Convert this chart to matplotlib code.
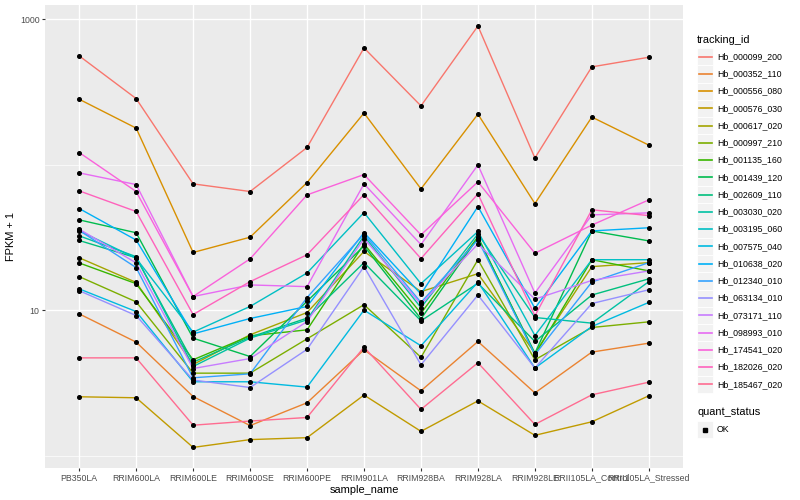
import matplotlib.pyplot as plt
from matplotlib.lines import Line2D
from matplotlib.patches import Rectangle
from matplotlib.ticker import FixedLocator, NullFormatter

samples = ["PB350LA", "RRIM600LA", "RRIM600LE", "RRIM600SE", "RRIM600PE",
           "RRIM901LA", "RRIM928BA", "RRIM928LA", "RRIM928LE",
           "RRII105LA_Control", "RRII105LA_Stressed"]

tracking_ids = ["Hb_000099_200", "Hb_000352_110", "Hb_000556_080", "Hb_000576_030",
                "Hb_000617_020", "Hb_000997_210", "Hb_001135_160", "Hb_001439_120",
                "Hb_002609_110", "Hb_003030_020", "Hb_003195_060", "Hb_007575_040",
                "Hb_010638_020", "Hb_012340_010", "Hb_063134_010", "Hb_073171_110",
                "Hb_098993_010", "Hb_174541_020", "Hb_182026_020", "Hb_185467_020"]

# FPKM + 1, one list per gene, in sample order
hb_000099_200 = [558, 284, 73.7, 65.3, 131, 633, 253, 895, 111, 469, 546]
hb_000352_110 = [9.43, 6.03, 2.55, 1.61, 2.31, 5.34, 2.79, 6.09, 2.70, 5.15, 5.93]
hb_000556_080 = [281, 178, 24.9, 31.7, 75.2, 226, 68.1, 222, 54.0, 212, 136]
hb_000576_030 = [2.54, 2.50, 1.14, 1.29, 1.33, 2.61, 1.47, 2.38, 1.38, 1.71, 2.58]
hb_000617_020 = [22.9, 15.5, 4.23, 6.77, 9.63, 25.3, 13.4, 17.8, 5.07, 19.9, 21.2]
hb_000997_210 = [17.0, 11.4, 3.69, 3.69, 6.35, 10.9, 4.74, 22.2, 4.56, 7.60, 8.31]
hb_001135_160 = [21.1, 15.2, 4.56, 6.66, 7.32, 28.5, 9.51, 31.9, 4.94, 22.2, 18.6]
hb_001439_120 = [41.7, 34.0, 6.42, 4.80, 11.5, 27.6, 8.71, 31.4, 5.07, 35.0, 29.9]
hb_002609_110 = [30.1, 22.9, 4.39, 6.52, 8.81, 21.2, 8.44, 15.3, 6.09, 12.7, 16.4]
hb_003030_020 = [32.4, 23.3, 4.10, 6.42, 8.58, 32.4, 10.4, 33.4, 8.90, 8.14, 15.7]
hb_003195_060 = [35.1, 22.7, 7.06, 10.6, 18.0, 46.8, 15.2, 34.7, 6.69, 22.2, 22.2]
hb_007575_040 = [14.0, 9.78, 3.22, 3.22, 2.96, 10.0, 5.69, 15.6, 4.00, 7.72, 11.3]
hb_010638_020 = [49.9, 30.3, 6.87, 8.76, 10.6, 34.1, 12.9, 51.5, 10.3, 35.0, 36.8]
hb_012340_010 = [35.3, 19.6, 3.43, 3.65, 12.2, 33.4, 11.3, 30.4, 4.94, 15.6, 21.2]
hb_063134_010 = [13.6, 9.18, 3.31, 2.94, 5.38, 19.9, 4.21, 12.7, 4.00, 11.1, 13.8]
hb_073171_110 = [36.0, 21.1, 3.97, 4.65, 8.35, 31.0, 11.0, 28.5, 11.9, 16.0, 18.6]
hb_098993_010 = [87.7, 72.9, 12.4, 14.9, 14.5, 73.7, 28.2, 99.5, 13.1, 45.1, 46.6]
hb_174541_020 = [121, 65.3, 12.4, 22.5, 61.9, 85.4, 32.9, 76.1, 24.6, 38.4, 57.2]
hb_182026_020 = [66.0, 47.6, 9.33, 15.7, 24.0, 62.2, 22.6, 62.9, 9.14, 48.9, 44.6]
hb_185467_020 = [4.70, 4.70, 1.62, 1.73, 1.83, 5.57, 2.08, 4.35, 1.64, 2.62, 3.20]

series = [hb_000099_200, hb_000352_110, hb_000556_080, hb_000576_030, hb_000617_020,
          hb_000997_210, hb_001135_160, hb_001439_120, hb_002609_110, hb_003030_020,
          hb_003195_060, hb_007575_040, hb_010638_020, hb_012340_010, hb_063134_010,
          hb_073171_110, hb_098993_010, hb_174541_020, hb_182026_020, hb_185467_020]

# ggplot2 default hue palette for 20 levels
colors = ["#F8766D", "#EA8331", "#D89000", "#C09B00", "#A3A500", "#7CAE00", "#39B600",
          "#00BB4E", "#00BF7D", "#00C1A3", "#00BFC4", "#00BAE0", "#00B0F6", "#35A2FF",
          "#9590FF", "#C77CFF", "#E76BF3", "#FA62DB", "#FF62BC", "#FF6C91"]

plt.rcParams["font.family"] = ["Liberation Sans", "DejaVu Sans"]

W, H = 800, 500
fig = plt.figure(figsize=(8, 5), dpi=100)
fig.patch.set_facecolor("white")

# plot panel in pixel coordinates
px_l, px_r, px_t, px_b = 45, 683, 5, 468
ax = fig.add_axes([px_l / W, 1 - px_b / H, (px_r - px_l) / W, (px_b - px_t) / H])
ax.set_facecolor("#EBEBEB")
for s in ax.spines.values():
    s.set_visible(False)

x = list(range(len(samples)))
for vals, col in zip(series, colors):
    ax.plot(x, vals, color=col, lw=1.0, zorder=3)
for vals in series:
    ax.plot(x, vals, ls="none", marker="o", ms=2.6, color="black", zorder=4)

ax.set_yscale("log")
ax.set_ylim(10 ** -0.0845, 10 ** 3.0962)
ax.set_xlim(-0.6, len(samples) - 0.4)

ax.set_yticks([10, 1000])
ax.set_yticklabels(["10", "1000"])
ax.yaxis.set_minor_locator(FixedLocator([1, 100]))
ax.yaxis.set_minor_formatter(NullFormatter())
ax.set_xticks(x)
ax.set_xticklabels(samples)

ax.grid(which="major", color="white", lw=1.0, zorder=0)
ax.grid(which="minor", axis="y", color="white", lw=0.5, zorder=0)
ax.set_axisbelow(True)
ax.tick_params(which="major", length=2.5, width=0.8, color="#333333",
               labelsize=6.3, labelcolor="#4D4D4D", pad=1.5)
ax.tick_params(which="minor", length=0)

ax.set_xlabel("sample_name", fontsize=7.9, color="black", labelpad=2)
ax.set_ylabel("FPKM + 1", fontsize=7.9, color="black", labelpad=3)

# legend drawn in pixel space to the right of the panel
lg = fig.add_axes([0, 0, 1, 1], facecolor="none")
lg.set_xlim(0, W)
lg.set_ylim(H, 0)
lg.axis("off")

lg.text(697, 40, "tracking_id", fontsize=7.9, va="center", ha="left")
key_top, key_h = 48, 17.25
for i, (name, col) in enumerate(zip(tracking_ids, colors)):
    y0 = key_top + i * key_h
    lg.add_patch(Rectangle((697, y0), 16, key_h, facecolor="#F2F2F2",
                           edgecolor="white", lw=0.6))
    lg.add_line(Line2D([698.5, 711.5], [y0 + key_h / 2] * 2, color=col, lw=1.2))
    lg.text(717, y0 + key_h / 2, name, fontsize=6.3, va="center", ha="left")

lg.text(697, 412, "quant_status", fontsize=7.9, va="center", ha="left")
lg.add_patch(Rectangle((697, 421), 16, 17, facecolor="#F2F2F2", edgecolor="white", lw=0.6))
lg.plot([705], [429.5], ls="none", marker="s", ms=2.2, color="black")
lg.text(717, 429.5, "OK", fontsize=6.3, va="center", ha="left")

fig.savefig("out.png", dpi=100)
